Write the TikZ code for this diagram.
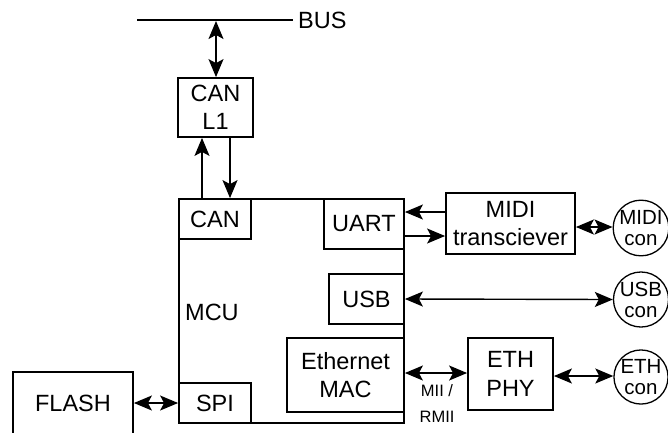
\documentclass[tikz,border=0pt]{standalone}
\usepackage{fontspec}
\setmainfont{Liberation Sans}
\usetikzlibrary{arrows.meta}
\begin{document}
\begin{tikzpicture}[x=1pt,y=-1pt,
  >={Stealth[length=18pt,width=15pt,inset=4pt]},
  box/.style={draw,line width=1.8pt,inner sep=0pt,align=center,font=\fontsize{23.5}{28.5}\selectfont},
  con/.style={draw,circle,line width=1.3pt,inner sep=0pt,minimum size=52pt,align=center,font=\fontsize{20.5}{21}\selectfont},
  arr/.style={line width=1.4pt,->},
  darr/.style={line width=1.4pt,<->},
  lbl/.style={inner sep=0pt,font=\fontsize{23.5}{28.5}\selectfont}]
\useasboundingbox (0,0) rectangle (668,432);
% bus
\coordinate (busL) at (137,20);
\coordinate (busR) at (293,20);
\draw[line width=1.3pt] (busL) -- (busR);
\node[lbl,anchor=west] (bus) at (298,20) {BUS};
% boxes
\node[box,minimum width=225pt,minimum height=224pt] (MCU) at (291.5,311) {};
\node[box,minimum width=72pt,minimum height=40pt] (CAN) at (215,219) {CAN};
\node[box,minimum width=80pt,minimum height=50pt] (UART) at (364,224) {UART};
\node[box,minimum width=75pt,minimum height=50pt] (USB) at (366.5,299) {USB};
\node[box,minimum width=117pt,minimum height=74pt] (MAC) at (345.5,375) {Ethernet\\MAC};
\node[box,minimum width=72pt,minimum height=40pt] (SPI) at (215,403) {SPI};
\node[lbl,anchor=west] (mcul) at (185,312) {MCU};
\node[box,minimum width=75pt,minimum height=59pt] (CANL1) at (215.5,107.5) {CAN\\L1};
\node[box,minimum width=129pt,minimum height=61pt] (MIDI) at (510.5,223.5) {MIDI\\transciever};
\node[box,minimum width=85pt,minimum height=72pt] (PHY) at (510.5,374) {ETH\\PHY};
\node[box,minimum width=120pt,minimum height=62pt] (FLASH) at (73,403) {FLASH};
% connectors
\node[con] (midicon) at (641,228) {MIDI\\con};
\node[con] (usbcon) at (641,299.5) {USB\\con};
\node[con] (ethcon) at (641,377) {ETH\\con};
% arrows
\coordinate (busA) at (216,21);
\draw[darr] (busA) -- (CANL1.north -| busA);
\draw[arr] (MCU.north -| 202,0) -- (CANL1.south -| 202,0);
\draw[arr] (CANL1.south -| 230,0) -- (MCU.north -| 230,0);
\draw[arr] (MIDI.west |- 0,212) -- (MCU.east |- 0,212);
\draw[arr] (MCU.east |- 0,236) -- (MIDI.west |- 0,236);
\draw[darr] (MIDI.east |- 0,227) -- (midicon.west |- 0,227);
\draw[darr] (USB.east) -- (usbcon.west);
\draw[darr] (MCU.east |- 0,373) -- (PHY.west |- 0,373);
\draw[darr] (PHY.east |- 0,376) -- (ethcon.west |- 0,376);
\draw[darr] (FLASH.east) -- (SPI.west);
\node[inner sep=0pt,align=center,font=\fontsize{16.5}{26}\selectfont] (mii) at (437,404) {MII /\\RMII};
\end{tikzpicture}
\end{document}
